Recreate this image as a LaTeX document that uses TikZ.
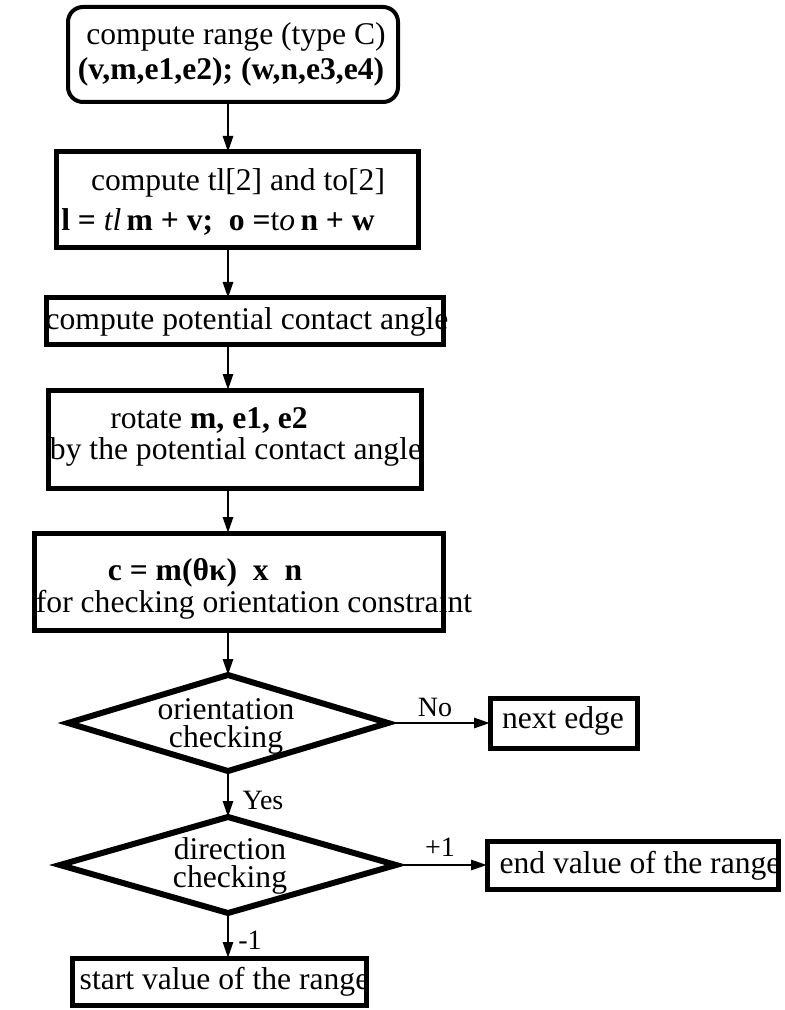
\documentclass[tikz,border=0pt]{standalone}
\usepackage{fontspec}
\setmainfont{Liberation Serif}
\usetikzlibrary{shapes.geometric,arrows.meta}
\begin{document}
\begin{tikzpicture}[x=0.5pt,y=-0.5pt,
  txt/.style={inner sep=0pt,font=\fontsize{15.8}{18}\selectfont},
  lbl/.style={inner sep=0pt,font=\fontsize{14}{16}\selectfont},
  box/.style={draw,rectangle,line width=2.5pt,inner sep=0pt,outer sep=0pt},
  rbox/.style={box,rounded corners=7.5pt,line width=2pt},
  dia/.style={draw,diamond,line width=3pt,inner sep=0pt,outer sep=0pt},
  arr/.style={line width=1.4pt,-{Triangle[length=8pt,width=5pt]}}]
\useasboundingbox (0,0) rectangle (785,1010);
\fill[white] (0,0) rectangle (785,1010);

% texts of the process boxes
\node[txt] (t1a) at (236,37) {compute range (type C)};
\node[txt] (t1b) at (231,72) {\textbf{(v,m,e1,e2); (w,n,e3,e4)}};
\node[txt] (t2a) at (238,183) {compute tl[2] and to[2]};
\node[txt] (t2b) at (218,222) {\textbf{l = }\textit{tl}\,\textbf{m + v;\ \ o =}t\textit{o}\,\textbf{n + w}};
\node[txt] (t3) at (247,322) {compute potential contact angle};
\node[txt] (t4a) at (209,420) {rotate \textbf{m, e1, e2}};
\node[txt] (t4b) at (236,452) {by the potential contact angle};
\node[txt] (t5a) at (205,573) {\textbf{c = m(θκ)\ \ x\ \ n}};
\node[txt] (t5b) at (254,605) {for checking orientation constraint};
\node[txt] (t6a) at (226,709) {orientation};
\node[txt] (t6b) at (226,740) {checking};
\node[txt] (t7a) at (230,849) {direction};
\node[txt] (t7b) at (230,880) {checking};
\node[txt] (t8) at (563,721) {next edge};
\node[txt] (t9) at (640,866) {end value of the range};
\node[txt] (t10) at (224.5,982) {start value of the range};

% branch labels
\node[lbl] (lno) at (435,707) {No};
\node[lbl] (lyes) at (263,800) {Yes};
\node[lbl] (lp1) at (440,847) {+1};
\node[lbl] (lm1) at (250,940) {-1};

% outlines
\node[rbox,minimum width=165pt,minimum height=47.5pt] (top) at (233,54.5) {};
\node[box,minimum width=181pt,minimum height=48pt] (b2) at (237,200) {};
\node[box,minimum width=198.5pt,minimum height=23pt] (b3) at (244.5,321) {};
\node[box,minimum width=186.5pt,minimum height=49pt] (b4) at (234.5,439) {};
\node[box,minimum width=204.5pt,minimum height=48.5pt] (b5) at (238.5,581.5) {};
\node[dia,minimum width=160pt,minimum height=48pt] (d1) at (228,723) {};
\node[dia,minimum width=168pt,minimum height=48pt] (d2) at (228,865) {};
\node[box,minimum width=73.5pt,minimum height=25pt] (next) at (563.5,723) {};
\node[box,minimum width=145.5pt,minimum height=24pt] (end) at (632.5,865) {};
\node[box,minimum width=147pt,minimum height=23.5pt] (start) at (219,981.5) {};

% connectors
\coordinate (ax) at (228,0);
\draw[arr] (top.south -| ax) -- (b2.north -| ax);
\draw[arr] (b2.south -| ax) -- (b3.north -| ax);
\draw[arr] (b3.south -| ax) -- (b4.north -| ax);
\draw[arr] (b4.south -| ax) -- (b5.north -| ax);
\draw[arr] (b5.south -| ax) -- (d1.north);
\draw[arr] (d1.east) -- (next.west);
\draw[arr] (d1.south) -- (d2.north);
\draw[arr] (d2.east) -- (end.west);
\draw[arr] (d2.south) -- (start.north -| d2.south);
\end{tikzpicture}
\end{document}
